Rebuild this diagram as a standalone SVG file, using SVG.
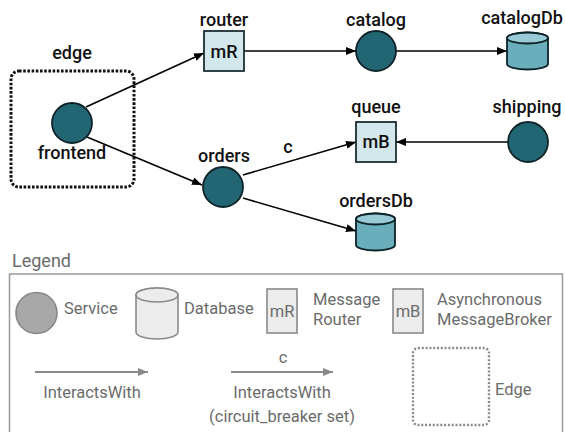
<svg xmlns="http://www.w3.org/2000/svg" width="565" height="432" viewBox="0 0 565 432">
  <style>
    text { font-family: Roboto, "Liberation Sans", sans-serif; }
    .lbl { font-size: 18px; font-weight: 500; fill: #111; text-anchor: middle; }
    .svc { fill: #236673; stroke: #0d2328; stroke-width: 1.8; }
    .bus { fill: #d2e8ed; stroke: #1a2e33; stroke-width: 1.8; }
    .db-body { fill: #6aaebb; stroke: #0d2328; stroke-width: 1.8; }
    .db-top { fill: #98cbd5; stroke: #0d2328; stroke-width: 1.8; }
    .edge-zone { fill: none; stroke: #111; stroke-width: 3; stroke-dasharray: 2.6 1.6; }
    .link { stroke: #000; stroke-width: 1.6; fill: none; marker-end: url(#head); }
    .lg-text { font-size: 16.5px; fill: #6b6b6b; }
    .lg-shape { fill: #ececec; stroke: #8a8a8a; stroke-width: 1.6; }
    .lg-link { stroke: #8a8a8a; stroke-width: 2; fill: none; marker-end: url(#headGrey); }
  </style>
  <defs>
    <marker id="head" viewBox="0 0 10 8" refX="10" refY="4" markerWidth="10" markerHeight="8" markerUnits="userSpaceOnUse" orient="auto">
      <path d="M0,0 L10,4 L0,8 z" fill="#000"/>
    </marker>
    <marker id="headGrey" viewBox="0 0 10 8" refX="10" refY="4" markerWidth="10" markerHeight="8" markerUnits="userSpaceOnUse" orient="auto">
      <path d="M0,0 L10,4 L0,8 z" fill="#8a8a8a"/>
    </marker>
  </defs>

  <rect width="565" height="432" fill="#fff"/>

  <!-- edge zone around the frontend -->
  <g id="edge">
    <rect class="edge-zone" x="11" y="71" width="123" height="116" rx="8"/>
    <text class="lbl" x="72" y="59">edge</text>
  </g>

  <!-- connectors -->
  <g id="connectors">
    <line class="link" x1="86" y1="107" x2="204" y2="53"/>
    <line class="link" x1="87" y1="137" x2="202" y2="185"/>
    <line class="link" x1="244" y1="51" x2="356" y2="51"/>
    <line class="link" x1="396" y1="51" x2="507" y2="51"/>
    <line class="link" x1="243" y1="175" x2="356" y2="142"/>
    <line class="link" x1="508" y1="142" x2="396" y2="142"/>
    <line class="link" x1="243" y1="198" x2="356" y2="231"/>
    <text class="lbl" x="288" y="153">c</text>
  </g>

  <g id="frontend">
    <circle class="svc" cx="72" cy="123" r="20"/>
    <text class="lbl" x="72" y="159">frontend</text>
  </g>

  <g id="router">
    <rect class="bus" x="204" y="31" width="40" height="40"/>
    <text class="lbl" x="224" y="58">mR</text>
    <text class="lbl" x="224" y="26">router</text>
  </g>

  <g id="catalog">
    <circle class="svc" cx="376" cy="51" r="20"/>
    <text class="lbl" x="376" y="26">catalog</text>
  </g>

  <g id="catalogDb">
    <path class="db-body" d="M507,38 A20.5,5.5 0 0 1 548,38 V64 A20.5,5.5 0 0 1 507,64 Z"/>
    <ellipse class="db-top" cx="527.5" cy="38" rx="20.5" ry="5.5"/>
    <text class="lbl" x="522" y="24">catalogDb</text>
  </g>

  <g id="queue">
    <rect class="bus" x="356" y="122" width="40" height="40"/>
    <text class="lbl" x="376" y="148">mB</text>
    <text class="lbl" x="376" y="113">queue</text>
  </g>

  <g id="shipping">
    <circle class="svc" cx="528" cy="142" r="20"/>
    <text class="lbl" x="527" y="113">shipping</text>
  </g>

  <g id="orders">
    <circle class="svc" cx="223" cy="187" r="20"/>
    <text class="lbl" x="224" y="162">orders</text>
  </g>

  <g id="ordersDb">
    <path class="db-body" d="M356,219 A19.5,5.5 0 0 1 395,219 V245 A19.5,5.5 0 0 1 356,245 Z"/>
    <ellipse class="db-top" cx="375.5" cy="219" rx="19.5" ry="5.5"/>
    <text class="lbl" x="376" y="207">ordersDb</text>
  </g>

  <!-- legend -->
  <g id="legend">
    <text x="12" y="267" style="font-size:18px; fill:#6b6b6b">Legend</text>
    <rect x="9.5" y="274" width="553" height="170" fill="none" stroke="#999" stroke-width="1.5"/>

    <circle cx="36.5" cy="313" r="20.5" fill="#a8a8a8" stroke="#888" stroke-width="1.6"/>
    <text class="lg-text" x="64" y="314">Service</text>

    <path class="lg-shape" d="M136,295 A21,7 0 0 1 178,295 V332 A21,7 0 0 1 136,332 Z" fill="#dcdcdc"/>
    <ellipse class="lg-shape" cx="157" cy="295" rx="21" ry="7" fill="#e4e4e4"/>
    <text class="lg-text" x="184" y="314">Database</text>

    <rect class="lg-shape" x="267" y="289" width="30" height="44"/>
    <text class="lg-text" x="282" y="317" text-anchor="middle">mR</text>
    <text class="lg-text" x="313" y="305">Message</text>
    <text class="lg-text" x="313" y="325">Router</text>

    <rect class="lg-shape" x="393" y="289" width="30" height="44"/>
    <text class="lg-text" x="408" y="317" text-anchor="middle">mB</text>
    <text class="lg-text" x="437" y="305">Asynchronous</text>
    <text class="lg-text" x="437" y="325">MessageBroker</text>

    <line class="lg-link" x1="35" y1="372" x2="148" y2="372"/>
    <text class="lg-text" x="92" y="398" text-anchor="middle">InteractsWith</text>

    <line class="lg-link" x1="231" y1="372" x2="333" y2="372"/>
    <text class="lg-text" x="283" y="363" text-anchor="middle">c</text>
    <text class="lg-text" x="282" y="398" text-anchor="middle">InteractsWith</text>
    <text class="lg-text" x="282" y="422" text-anchor="middle">(circuit_breaker set)</text>

    <rect x="413" y="348" width="76" height="77" rx="5" fill="none" stroke="#8a8a8a" stroke-width="2.4" stroke-dasharray="2 1.8"/>
    <text class="lg-text" x="495" y="395">Edge</text>
  </g>
</svg>
